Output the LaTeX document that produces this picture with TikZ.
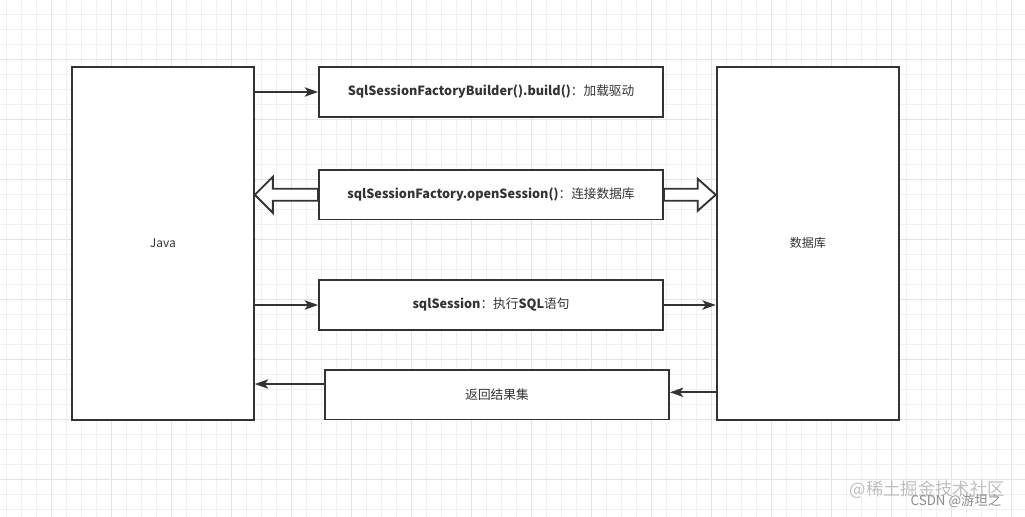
\documentclass[tikz,border=0pt]{standalone}
\usepackage{fontspec}
\setmainfont{Noto Sans CJK SC}
\usetikzlibrary{arrows.meta,calc}
\definecolor{ink}{HTML}{333333}
\tikzset{basic/.style={draw=ink,line width=1.4pt,fill=white,inner sep=0pt,
                       text=ink,font=\fontsize{9.5}{11}\selectfont}}
\tikzset{side/.style={basic,minimum width=136.7pt,minimum height=264.8pt,
                      font=\fontsize{9}{11}\selectfont}}
\tikzset{call/.style={basic,minimum width=258pt,minimum height=37.1pt}}
\tikzset{link/.style={draw=ink,line width=1.4pt,
                      -{Stealth[length=10pt,width=7pt,inset=2.5pt]}}}
\tikzset{bigarrow/.style={draw=ink,line width=1.4pt,fill=white,line join=miter}}
\tikzset{minorgrid/.style={draw=black!6,line width=0.6pt}}
\tikzset{majorgrid/.style={draw=black!11,line width=0.6pt}}

\begin{document}
\begin{tikzpicture}[x=0.75pt,y=-0.75pt]
        \useasboundingbox (0,0) rectangle (1025,517);
        \fill[white] (0,0) rectangle (1025,517);
        % Grid
        \foreach \gx in {6.7,21.7,...,1025}{%
              \draw[minorgrid] (\gx,0) -- (\gx,517);
            }
        \foreach \gy in {14.5,29.5,...,517}{%
              \draw[minorgrid] (0,\gy) -- (1025,\gy);
            }
        \foreach \gx in {51.7,111.7,...,1025}{%
              \draw[majorgrid] (\gx,0) -- (\gx,517);
            }
        \foreach \gy in {59.5,119.5,...,517}{%
              \draw[majorgrid] (0,\gy) -- (1025,\gy);
            }
        % Boxes
        \node[side] (java) at (162.8,243.3) {Java};
        \node[side] (db) at (807.8,243.3) {数据库};
        \node[call] (build) at (491,92) {{\bfseries SqlSessionFactoryBuilder().build()}：加载驱动};
        \node[call] (open) at (491,194.8) {{\bfseries sqlSessionFactory.openSession()}：连接数据库};
        \node[call] (exec) at (491,305) {{\bfseries sqlSession}：执行{\bfseries SQL}语句};
        \node[call] (ret) at (497,394.7) {返回结果集};
        % Connectors
        \draw[link] (java.east |- build) -- (build);
        \draw[link] (java.east |- exec) -- (exec);
        \draw[link] (exec) -- (exec -| db.west);
        \draw[link] ([yshift=8pt]ret.west) -- ([yshift=8pt]ret.west -| java.east);
        \draw[link] ([yshift=1.8pt]ret.east -| db.west) -- ([yshift=1.8pt]ret.east);
        \coordinate (ltip) at (open.west -| java.east);
        \coordinate (rtip) at (open.east -| db.west);
        \draw[bigarrow] (ltip) -- ++(18,-18) |- ($(open.west)+(0,-6)$)
              -- ($(open.west)+(0,6)$) -| ($(ltip)+(18,18)$) -- cycle;
        \draw[bigarrow] ($(open.east)+(0,-6)$) -| ($(rtip)+(-18,-16)$) -- (rtip)
              -- ($(rtip)+(-18,16)$) |- ($(open.east)+(0,6)$) -- cycle;
        % Watermark
        \node[text=black!25,font=\fontsize{13}{15}\selectfont,anchor=west] (mark) at (845,490) {@稀土掘金技术社区};
        \node[text=black!45,font=\fontsize{10}{12}\selectfont,anchor=west] (csdn) at (906,501) {CSDN @游坦之};
    \end{tikzpicture}
\end{document}
